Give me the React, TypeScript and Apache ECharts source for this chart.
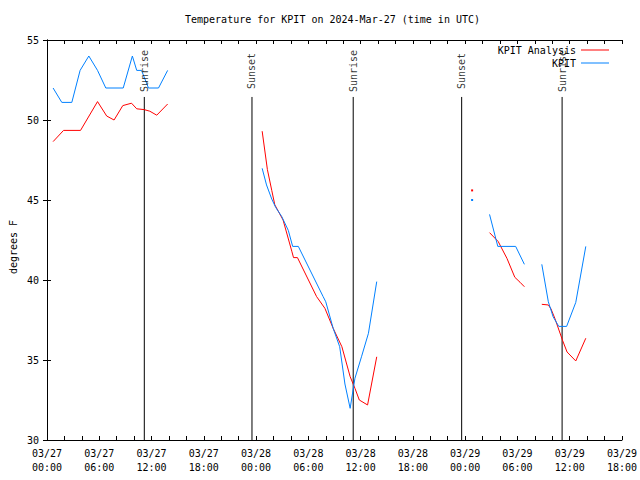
import React, { useEffect, useRef } from 'react';
import * as echarts from 'echarts';

const FONT = 'DejaVu Sans Mono';

// hours since 2024-03-27 00:00 UTC; null marks a gap in the record
const analysisHours = [
  0.7, 1.9, 3.85, 5.8, 6.85, 7.7, 8.7, 9.7, 10.3, 11.15, 11.8, 12.6, 13.85, null,
  24.7, 25.3, 25.8, 26.15, 27.1, 28.1, 28.3, 28.75, 30.95, 31.9, 32.85, 33.85, 34.8, 35.35, 35.85, 36.8, 37.85, null,
  48.8, null,
  50.8, 51.8, 52.8, 53.7, 54.3, 54.8, null,
  56.8, 57.55, 57.85, 58.3, 59.2, 59.7, 60.7, 61.85,
];
const analysisTemps = [
  48.65, 49.35, 49.35, 51.15, 50.25, 50.0, 50.9, 51.05, 50.7, 50.65, 50.55, 50.3, 51.0, null,
  49.3, 46.9, 45.6, 44.7, 43.75, 41.8, 41.4, 41.4, 38.96, 38.23, 36.98, 35.83, 33.96, 33.23, 32.5, 32.19, 35.2, null,
  45.6, null,
  42.96, 42.4, 41.35, 40.17, 39.86, 39.58, null,
  38.48, 38.44, 38.2, 37.6, 36.2, 35.5, 34.94, 36.36,
];

const kpitHours = [
  0.7, 1.7, 2.85, 3.8, 4.8, 5.8, 6.75, 8.75, 9.8, 10.3, 10.85, 11.65, 12.8, 13.85, null,
  24.7, 25.2, 25.8, 26.25, 26.95, 27.7, 28.2, 28.85, 31.7, 32.0, 32.85, 33.6, 34.2, 34.8, 35.35, 36.1, 36.9, 37.85, null,
  48.8, null,
  50.8, 51.75, 53.8, 54.8, null,
  56.8, 57.55, 58.1, 58.75, 59.65, 60.7, 61.85,
];
const kpitTemps = [
  52.0, 51.1, 51.1, 53.1, 54.0, 53.1, 52.0, 52.0, 54.0, 53.1, 53.1, 52.0, 52.0, 53.1, null,
  46.98, 45.94, 45.06, 44.54, 43.96, 43.1, 42.1, 42.1, 38.96, 38.64, 36.98, 35.83, 33.5, 31.98, 33.86, 35.2, 36.67, 39.9, null,
  45.0, null,
  44.1, 42.1, 42.1, 40.98, null,
  40.98, 38.64, 37.7, 37.1, 37.1, 38.6, 42.1,
];

const sunEventHours = [11.17, 23.53, 35.15, 47.6, 59.13];
const sunEventNames = ['Sunrise', 'Sunset', 'Sunrise', 'Sunset', 'Sunrise'];

const xTickHours = [0, 6, 12, 18, 24, 30, 36, 42, 48, 54, 60, 66];
const yTicks = [30, 35, 40, 45, 50, 55];

const TITLE = 'Temperature for KPIT on 2024-Mar-27 (time in UTC)';
const Y_MIN = 30;
const SUN_LINE_TOP = 51.44;
const SUN_LABEL_Y = 53.06;

function toData(hours: (number | null)[], temps: (number | null)[]) {
  return hours.map((h, i) => {
    if (h === null || temps[i] === null) return ['-', '-'];
    const isolated =
      (i === 0 || hours[i - 1] === null) && (i === hours.length - 1 || hours[i + 1] === null);
    if (isolated) return { value: [h, temps[i]], symbol: 'rect', symbolSize: 2 };
    return [h, temps[i]];
  });
}

function fmtHour(v: number) {
  const day = 27 + Math.floor(v / 24);
  const hr = Math.round(v % 24);
  return `03/${String(day).padStart(2, '0')}\n${String(hr).padStart(2, '0')}:00`;
}

export default function App() {
  const ref = useRef<HTMLDivElement>(null);
  useEffect(() => {
    if (!ref.current) return;
    const chart = echarts.init(ref.current, undefined, { renderer: 'svg' });
    const black = '#000';
    const tickStyle = { color: black, width: 1 };
    const baseText = { fontFamily: FONT, fontSize: 10, color: black };

    const sunLineData: any[] = [];
    sunEventHours.forEach((t) => {
      sunLineData.push([t, Y_MIN], [t, SUN_LINE_TOP], ['-', '-']);
    });

    const legendBase = {
      right: 31,
      padding: 0,
      align: 'right',
      icon: 'rect',
      itemWidth: 28,
      itemHeight: 1,
      textStyle: baseText,
      selectedMode: false,
    };

    chart.setOption({
      animation: false,
      backgroundColor: '#fff',
      textStyle: { fontFamily: FONT, fontSize: 10, color: black },
      title: {
        text: TITLE,
        left: 185,
        top: 14,
        padding: 0,
        textStyle: { ...baseText, fontWeight: 'normal' },
      },
      legend: [
        { ...legendBase, data: ['KPIT Analysis'], top: 45 },
        { ...legendBase, data: ['KPIT'], top: 58 },
      ],
      grid: { left: 47, right: 18, top: 40, bottom: 40, containLabel: false },
      xAxis: [
        {
          type: 'value',
          position: 'bottom',
          min: xTickHours[0],
          max: xTickHours[xTickHours.length - 1],
          interval: 6,
          axisLine: { lineStyle: tickStyle },
          axisTick: { inside: true, length: 4, lineStyle: tickStyle },
          minorTick: { show: true, splitNumber: 3, length: 4, lineStyle: tickStyle },
          splitLine: { show: false },
          axisLabel: { ...baseText, formatter: fmtHour, lineHeight: 14, margin: 6, showMaxLabel: true, showMinLabel: true },
        },
        {
          type: 'value',
          position: 'top',
          min: xTickHours[0],
          max: xTickHours[xTickHours.length - 1],
          interval: 6,
          axisLine: { lineStyle: tickStyle },
          axisTick: { inside: true, length: 4, lineStyle: tickStyle },
          minorTick: { show: true, splitNumber: 3, length: 4, lineStyle: tickStyle },
          splitLine: { show: false },
          axisLabel: { show: false },
        },
      ],
      yAxis: [
        {
          type: 'value',
          position: 'left',
          min: yTicks[0],
          max: yTicks[yTicks.length - 1],
          interval: 5,
          axisLine: { show: true, lineStyle: tickStyle },
          axisTick: { show: true, inside: true, length: 4, lineStyle: tickStyle },
          splitLine: { show: false },
          axisLabel: { ...baseText, margin: 8 },
        },
        {
          type: 'value',
          position: 'right',
          min: yTicks[0],
          max: yTicks[yTicks.length - 1],
          interval: 5,
          axisLine: { show: true, lineStyle: tickStyle },
          axisTick: { show: true, inside: true, length: 4, lineStyle: tickStyle },
          splitLine: { show: false },
          axisLabel: { show: false },
        },
      ],
      graphic: [
        {
          type: 'text',
          x: 13,
          y: 247,
          rotation: Math.PI / 2,
          style: {
            text: 'degrees F',
            fontFamily: FONT,
            fontSize: 10,
            fill: black,
            align: 'center',
            verticalAlign: 'middle',
          },
        },
      ],
      series: [
        {
          name: 'sun-lines',
          type: 'line',
          data: sunLineData,
          symbol: 'none',
          connectNulls: false,
          lineStyle: { color: black, width: 1 },
          itemStyle: { color: black },
          silent: true,
          z: 1,
        },
        {
          name: 'sun-labels',
          type: 'scatter',
          data: sunEventHours.map((t, i) => ({ value: [t, SUN_LABEL_Y], name: sunEventNames[i] })),
          symbolSize: 1,
          itemStyle: { color: 'rgba(0,0,0,0)' },
          label: {
            show: true,
            position: 'inside',
            rotate: 90,
            formatter: '{b}',
            ...baseText,
          },
          silent: true,
          z: 3,
        },
        {
          name: 'KPIT Analysis',
          type: 'line',
          data: toData(analysisHours, analysisTemps),
          symbol: 'none',
          showSymbol: true,
          connectNulls: false,
          lineStyle: { color: '#ff0000', width: 1 },
          itemStyle: { color: '#ff0000' },
          z: 2,
        },
        {
          name: 'KPIT',
          type: 'line',
          data: toData(kpitHours, kpitTemps),
          symbol: 'none',
          showSymbol: true,
          connectNulls: false,
          lineStyle: { color: '#0080ff', width: 1 },
          itemStyle: { color: '#0080ff' },
          z: 2,
        },
      ],
    });
    return () => chart.dispose();
  }, []);
  return <div ref={ref} style={{ position: 'fixed', left: 0, top: 0, width: 640, height: 480 }} />;
}
